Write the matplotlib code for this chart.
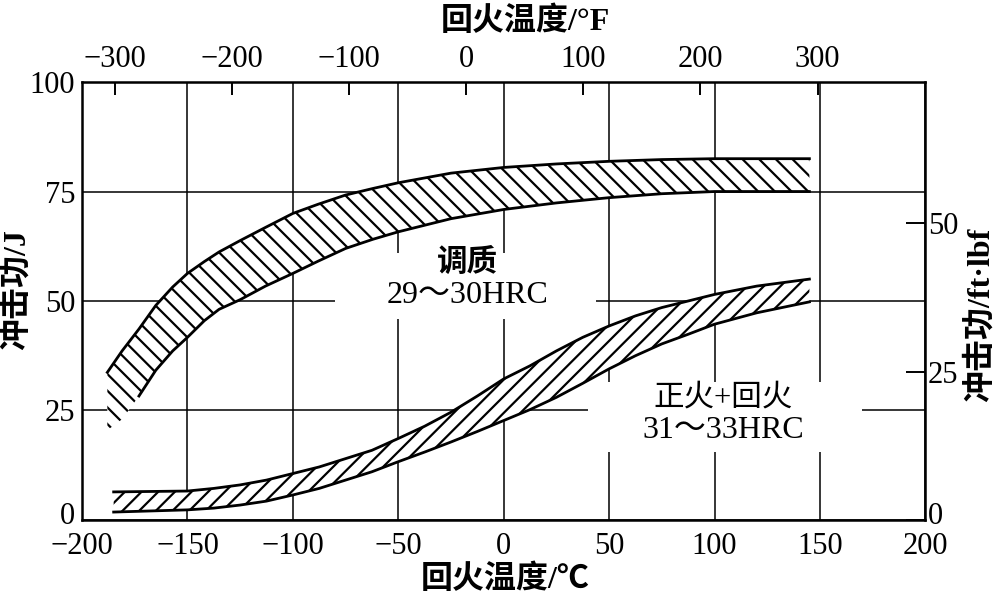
import numpy as np
import matplotlib.pyplot as plt
from matplotlib.patches import Rectangle
from matplotlib.transforms import ScaledTranslation

plt.rcParams['font.family'] = ['Liberation Serif', 'Noto Sans CJK SC']
plt.rcParams['hatch.linewidth'] = 1.6
plt.rcParams['axes.unicode_minus'] = True

# upper band: 调质 29~30HRC
temp_q = [-188, -181, -173, -165, -157, -150, -142, -135, -125, -113, -100, -88, -75, -62,
          -50, -25, 0, 25, 50, 75, 100, 125, 145]
q_hi = [33.7, 38.6, 43.6, 49.0, 53.2, 56.3, 59.0, 61.2, 63.8, 66.8, 70.0, 72.1, 74.2, 75.7,
        77.0, 79.2, 80.5, 81.3, 81.9, 82.3, 82.5, 82.5, 82.5]
q_lo = [20.5, 23.0, 28.3, 34.2, 38.6, 41.7, 45.5, 48.1, 50.3, 53.4, 56.3, 59.1, 62.0, 64.1,
        65.8, 68.8, 70.9, 72.4, 73.6, 74.5, 75.0, 75.0, 75.0]

# lower band: 正火+回火 31~33HRC
temp_n = [-185, -150, -137.5, -125, -112.5, -100, -87.5, -75, -62.5, -50, -37.5, -25, -12.5,
          0, 12.5, 25, 37.5, 50, 62.5, 75, 87.5, 100, 120, 145]
n_hi = [6.4, 6.6, 7.2, 8.0, 9.1, 10.6, 12.1, 14.0, 15.9, 18.6, 21.4, 24.6, 28.3,
        32.2, 35.2, 38.6, 41.7, 44.3, 46.6, 48.5, 50.0, 51.5, 53.4, 55.0]
n_lo = [1.8, 2.3, 2.7, 3.4, 4.3, 5.7, 7.2, 9.1, 11.0, 13.3, 15.5, 17.8, 20.2,
        22.7, 25.2, 28.0, 31.2, 34.5, 37.5, 40.2, 42.4, 44.7, 47.3, 49.8]

xticks_c = [-200, -150, -100, -50, 0, 50, 100, 150, 200]
yticks_j = [0, 25, 50, 75, 100]
xticks_f = [-300, -200, -100, 0, 100, 200, 300]
yticks_ft = [0, 25, 50]

fs = 22

fig = plt.figure(figsize=(9.98, 5.99), dpi=100)
ax = fig.add_axes([0.0822, 0.132, 0.845, 0.731])
ax.set_xlim(-200, 200)
ax.set_ylim(0, 100)
ax.set_xticks(xticks_c)
ax.set_yticks(yticks_j)
ax.set_axisbelow(True)
ax.grid(True, color='black', lw=1.1)
ax.tick_params(length=0, labelsize=fs)
ax.tick_params(axis='x', pad=9)
ax.tick_params(axis='y', pad=5)
for s in ax.spines.values():
    s.set_linewidth(1.8)

# white gaps in grid behind the labels
ax.add_patch(Rectangle((-80, 46), 124, 15, facecolor='white', edgecolor='none', zorder=1.5))
ax.add_patch(Rectangle((40, 15.5), 130, 16, facecolor='white', edgecolor='none', zorder=1.5))

ax.fill_between(temp_q, q_lo, q_hi, facecolor='white', edgecolor='black', hatch='\\\\',
                linewidth=0, zorder=2)
ax.plot(temp_q, q_hi, color='black', lw=2, zorder=3)
ax.plot(temp_q[2:], q_lo[2:], color='black', lw=2, zorder=3)

ax.fill_between(temp_n, n_lo, n_hi, facecolor='white', edgecolor='black', hatch='//',
                linewidth=0, zorder=2)
ax.plot(temp_n, n_hi, color='black', lw=2, zorder=3)
ax.plot(temp_n, n_lo, color='black', lw=2, zorder=3)

ax.text(-17, 58.5, '调质', ha='center', va='center', fontsize=fs, fontweight='bold', zorder=4)
ax.text(-17, 51.3, '29～30HRC', ha='center', va='center', fontsize=fs + 1, zorder=4)
ax.text(104, 27.8, '正火+回火', ha='center', va='center', fontsize=fs, zorder=4)
ax.text(104, 20.4, '31～33HRC', ha='center', va='center', fontsize=fs + 1, zorder=4)

top = ax.secondary_xaxis('top', functions=(lambda c: c * 9 / 5 + 32, lambda f: (f - 32) * 5 / 9))
top.set_xticks(xticks_f)
top.tick_params(direction='in', length=9, width=1.4, labelsize=fs, pad=6)

right = ax.secondary_yaxis('right', functions=(lambda j: j / 1.3558, lambda ft: ft * 1.3558))
right.set_yticks(yticks_ft)
right.tick_params(direction='in', length=14, width=1.4, labelsize=fs, pad=2)

# the "0" labels sit a little higher than the spine, like in the original
up = ScaledTranslation(0, 5 / 72, fig.dpi_scale_trans)
t0 = ax.yaxis.get_major_ticks()[0]
t0.label1.set_transform(t0.label1.get_transform() + up)
r0 = right.yaxis.get_major_ticks()[0]
r0.label2.set_transform(r0.label2.get_transform() + up)

fig.text(0.526, 0.963, '回火温度/°F', ha='center', va='center', fontsize=23, fontweight='bold')
fig.text(0.506, 0.032, '回火温度/℃', ha='center', va='center', fontsize=23, fontweight='bold')
fig.text(0.016, 0.516, '冲击功/J', ha='center', va='center', rotation=90, fontsize=23, fontweight='bold')
fig.text(0.982, 0.475, '冲击功/ft·lbf', ha='center', va='center', rotation=90, fontsize=23, fontweight='bold')

fig.savefig('out.png', dpi=100)
